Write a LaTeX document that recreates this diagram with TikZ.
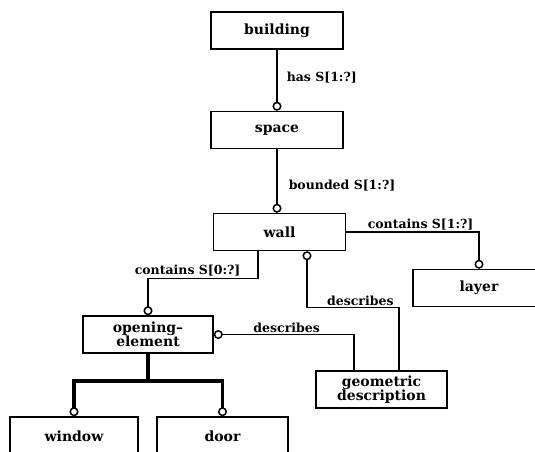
\documentclass[tikz,border=0pt]{standalone}
\usepackage{fontspec}
\setmainfont{DejaVu Serif}
\usetikzlibrary{arrows.meta,calc}
\begin{document}
\begin{tikzpicture}[x=1pt,y=-1pt,
  entity/.style={draw,line width=1.5pt,minimum width=132pt,minimum height=37pt,
    inner sep=0pt,align=center,font=\bfseries\fontsize{14}{14}\selectfont},
  link/.style={line width=1.5pt},
  heavylink/.style={line width=3.5pt},
  rel/.style={font=\bfseries\fontsize{12.5}{13}\selectfont,inner sep=1pt},
  ringend/.style={-{Circle[open,length=9pt,line width=1.5pt]}},
  ringstart/.style={{Circle[open,length=9pt,line width=1.5pt]}-}]
  \clip (0,0) rectangle (535,452);

  % Entities
  \node[entity] (building) at (277,30.5) {building};
  \node[entity] (space) at (277,130) {space};
  \node[entity] (wall) at (279.5,232) {wall};
  \node[entity] (layer) at (479,288) {layer};
  \node[entity,minimum width=130pt] (opening) at (148,334.5) {opening--\\element};
  \node[entity,minimum width=131pt] (geo) at (381.5,389.5) {geometric\\description};
  \node[entity,minimum width=128pt,minimum height=38pt] (window) at (74,436) {window};
  \node[entity,minimum width=131pt,minimum height=38pt] (door) at (222.5,436) {door};

  % Relations
  \draw[link,ringend] (building) -- (space)
    node[rel,pos=0.46,right=8pt] {has S[1:?]};
  \draw[link,ringend] (space.south) -- (space.south |- wall.north)
    node[rel,pos=0.57,right=10pt] {bounded S[1:?]};
  \draw[link,ringend] (wall.east) -| node[rel,above,pos=0.28] {contains S[1:?]} (layer.north);
  \draw[link,ringend] ($(wall.south)+(-21.5,0)$) -- ++(0,27)
    -| node[rel,above,pos=0.32] {contains S[0:?]} (opening.north);
  \draw[link,ringstart] ($(wall.south)+(27.5,0)$) -- ++(0,56)
    -| node[rel,above,pos=0.29] {describes} ($(geo.north)+(17.5,0)$);
  \draw[link,ringstart] (opening.east) -| node[rel,above,pos=0.26] {describes} ($(geo.north)+(-27.5,0)$);

  % Subtypes
  \draw[heavylink,ringend] (opening.south) -- ++(0,27) -| (window.north);
  \draw[heavylink,ringend] (opening.south) ++(0,27) -| (door.north);
\end{tikzpicture}
\end{document}
